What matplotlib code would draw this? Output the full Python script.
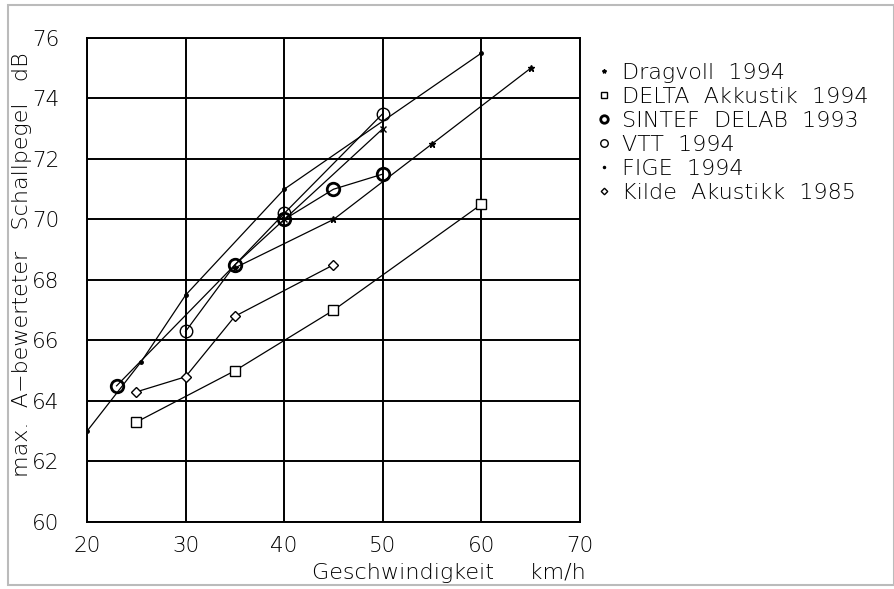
import matplotlib
matplotlib.use("Agg")
import numpy as np
from matplotlib import pyplot as plt
from matplotlib.patches import Rectangle

plt.rcParams['font.family'] = ['DejaVu Sans']
plt.rcParams['font.weight'] = 'light'

# --- data ---
dragvoll_x = [35, 45, 55, 65]
dragvoll_y = [68.4, 70.0, 72.5, 75.0]

delta_x = [25, 35, 45, 60]
delta_y = [63.3, 65.0, 67.0, 70.5]

sintef_x = [23, 35, 40, 45, 50]
sintef_y = [64.5, 68.5, 70.0, 71.0, 71.5]

vtt_x = [30, 35, 40, 50]
vtt_y = [66.3, 68.5, 70.2, 73.5]

fige_x = [20, 25.5, 30, 40, 60]
fige_y = [63.0, 65.3, 67.5, 71.0, 75.5]

kilde_x = [25, 30, 35, 45]
kilde_y = [64.3, 64.8, 66.8, 68.5]

# unlabeled segment with small x marks
extra_x = [40, 50]
extra_y = [70.0, 73.0]

xticks = [20, 30, 40, 50, 60, 70]
yticks = [60, 62, 64, 66, 68, 70, 72, 74, 76]

fig = plt.figure(figsize=(8.95, 5.89), dpi=100)
ax = fig.add_axes([0.0972, 0.1138, 0.5508, 0.8217])

lw = 0.9
ax.plot(dragvoll_x, dragvoll_y, color='black', lw=lw, marker='*', ms=5,
        label='Dragvoll  1994')
ax.plot(delta_x, delta_y, color='black', lw=lw, marker='s', ms=6.5,
        mfc='white', mew=1.0, label='DELTA  Akkustik  1994')
ax.plot(sintef_x, sintef_y, color='black', lw=lw, marker='o', ms=9,
        mfc='none', mew=2.0, label='SINTEF  DELAB  1993')
ax.plot(vtt_x, vtt_y, color='black', lw=lw, marker='o', ms=9,
        mfc='none', mew=1.0, label='VTT  1994')
ax.plot(fige_x, fige_y, color='black', lw=lw, marker='.', ms=5,
        label='FIGE  1994')
ax.plot(kilde_x, kilde_y, color='black', lw=lw, marker='D', ms=5.5,
        mfc='white', mew=1.0, label='Kilde  Akustikk  1985')
ax.plot(extra_x, extra_y, color='black', lw=lw, marker='x', ms=4)

ax.set_xlim(20, 70)
ax.set_ylim(60, 76)
ax.set_xticks(xticks)
ax.set_yticks(yticks)
ax.grid(True, color='black', lw=1.4)
for s in ax.spines.values():
    s.set_linewidth(1.4)
ax.tick_params(length=0, labelsize=15.5)
ax.tick_params(axis='y', pad=20)
ax.tick_params(axis='x', pad=10)

fig.text(0.025, 0.55, 'max.  A\u2212bewerteter   Schallpegel   dB', rotation=90,
         ha='center', va='center', fontsize=16)
fig.text(0.655, 0.028, 'Geschwindigkeit     km/h', ha='right', va='center',
         fontsize=16)

leg = ax.legend(loc='upper left', bbox_to_anchor=(0.995, 0.99), frameon=False,
                fontsize=16, handlelength=0.6, handletextpad=0.5,
                labelspacing=0.18, markerscale=0.6)
for h in leg.legend_handles:
    h.set_linestyle('none')

fig.add_artist(Rectangle((0.009, 0.006), 0.99, 0.985, transform=fig.transFigure,
                         fill=False, edgecolor='#bbbbbb', lw=1.5))

fig.savefig('out.png', dpi=100)
